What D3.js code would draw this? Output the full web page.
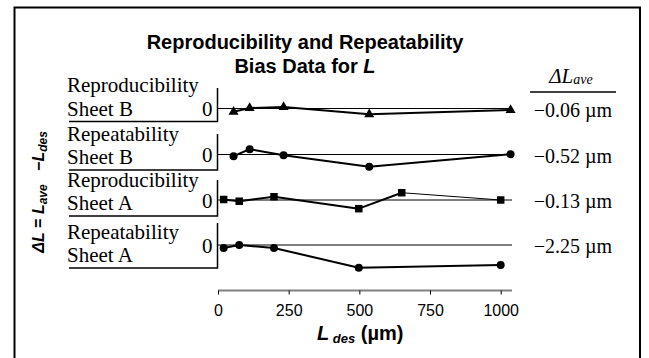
<!DOCTYPE html>
<html>
<head>
<meta charset="utf-8">
<script src="https://cdn.jsdelivr.net/npm/d3@7"></script>
<style>
  body { margin: 0; background: #fff; }
  .serif { font-family: "Liberation Serif", "Times New Roman", serif; }
  .sans { font-family: "Liberation Sans", Arial, sans-serif; }
</style>
</head>
<body>
<div id="chart"></div>
<script>
// data (bias in µm, against L des in µm)
const panelNames = ["Reproducibility", "Repeatability", "Reproducibility", "Repeatability"];
const panelSheets = ["Sheet B", "Sheet B", "Sheet A", "Sheet A"];
const markerTypes = ["triangle", "circle", "square", "circle"];
const aveBias = ["\u22120.06 \u00b5m", "\u22120.52 \u00b5m", "\u22120.13 \u00b5m", "\u22122.25 \u00b5m"];

const xSheetB = [55, 112, 232, 535, 1035];
const xReproA = [20, 75, 198, 498, 650, 1000];
const xRepeatA = [20, 75, 198, 498, 1000];

const reproB = [-0.73, 0.11, 0.33, -1.27, -0.33];
const repeatB = [-0.38, 1.18, -0.16, -2.73, 0.07];
const reproA = [0.11, -0.27, 0.73, -1.93, 1.62, 0];
const repeatA = [-0.67, 0, -0.67, -5.04, -4.44];

const xTicks = [0, 250, 500, 750, 1000];

const seriesX = [xSheetB, xSheetB, xReproA, xRepeatA];
const seriesY = [reproB, repeatB, reproA, repeatA];

// layout
const W = 649, H = 358;
const zeroY = [108.5, 154.5, 200, 245];
const boxTop = [88, 134, 180, 223];
const boxBottom = [121.5, 170, 216, 268];

const svg = d3.select("#chart").append("svg")
  .attr("width", W).attr("height", H);

// outer frame (open at the bottom)
svg.append("path")
  .attr("d", "M14.5," + (H + 5) + "V7.5H640V" + (H + 5))
  .attr("fill", "none").attr("stroke", "#000").attr("stroke-width", 2);

// title
const title = svg.append("text").attr("class", "sans")
  .attr("text-anchor", "middle")
  .style("font-size", "20px").style("font-weight", "bold");
title.append("tspan").attr("x", 305).attr("y", 49).text("Reproducibility and Repeatability");
const t2 = title.append("tspan").attr("x", 305).attr("y", 73);
t2.text("Bias Data for ");
title.append("tspan").style("font-style", "italic").text("L");

const x = d3.scaleLinear().domain([0, 1040]).range([218, 512]);

// y label
const yl = svg.append("text").attr("class", "sans")
  .attr("transform", "translate(44,192) rotate(-90)")
  .attr("text-anchor", "middle")
  .style("font-size", "16px").style("font-weight", "bold");
yl.append("tspan").style("font-style", "italic").text("\u0394L");
yl.append("tspan").text(" = ");
yl.append("tspan").style("font-style", "italic").text("L");
yl.append("tspan").style("font-style", "italic").style("font-size", "12px").attr("dy", 3).text("ave");
yl.append("tspan").attr("dy", -3).text("\u00a0\u00a0\u00a0\u2212");
yl.append("tspan").style("font-style", "italic").text("L");
yl.append("tspan").style("font-style", "italic").style("font-size", "12px").attr("dy", 3).text("des");

// header of the right column
const hdr = svg.append("text").attr("class", "serif")
  .attr("x", 571).attr("y", 83).attr("text-anchor", "middle")
  .style("font-style", "italic");
hdr.append("tspan").style("font-size", "21px").text("\u0394L");
hdr.append("tspan").style("font-size", "14px").attr("dy", 1).text("ave");
svg.append("line")
  .attr("x1", 530).attr("x2", 616).attr("y1", 92).attr("y2", 92)
  .attr("stroke", "#000").attr("stroke-width", 1.5);

const symbols = { triangle: d3.symbolTriangle, circle: d3.symbolCircle, square: d3.symbolSquare };
const symSize = { triangle: 44, circle: 50, square: 56 };

panelNames.forEach((name, i) => {
  const y0 = zeroY[i];
  const y = d3.scaleLinear().domain([-1, 1]).range([y0 + 4.5, y0 - 4.5]);
  const g = svg.append("g");

  // label box
  g.append("path")
    .attr("d", "M69," + boxBottom[i] + "H217.5V" + boxTop[i])
    .attr("fill", "none").attr("stroke", "#000").attr("stroke-width", 1.5);
  const lab = g.append("text").attr("class", "serif").style("font-size", "21px");
  lab.append("tspan").attr("x", 67).attr("y", boxBottom[i] - 29.5).text(name);
  lab.append("tspan").attr("x", 67).attr("y", boxBottom[i] - 6).text(panelSheets[i]);

  g.append("text").attr("class", "serif")
    .attr("x", 212.5).attr("y", y0).attr("dy", "0.36em")
    .attr("text-anchor", "end").style("font-size", "21px").text("0");

  // zero line
  g.append("line")
    .attr("x1", x(0)).attr("x2", x(1040)).attr("y1", y(0)).attr("y2", y(0))
    .attr("stroke", "#000").attr("stroke-width", 1);

  const pts = seriesX[i].map((v, j) => [v, seriesY[i][j]]);

  // connecting segments
  g.selectAll(".seg").data(d3.pairs(pts)).join("line")
    .attr("x1", d => x(d[0][0])).attr("y1", d => y(d[0][1]))
    .attr("x2", d => x(d[1][0])).attr("y2", d => y(d[1][1]))
    .attr("stroke", "#000")
    .attr("stroke-width", (d, j) => (i === 2 && j === 4) ? 1 : 2);

  const sym = d3.symbol().type(symbols[markerTypes[i]]).size(symSize[markerTypes[i]]);
  g.selectAll(".pt").data(pts).join("path")
    .attr("transform", d => "translate(" + x(d[0]) + "," + y(d[1]) + ")")
    .attr("d", sym).attr("fill", "#000");

  g.append("text").attr("class", "serif")
    .attr("x", 573).attr("y", y0).attr("dy", "0.42em")
    .attr("text-anchor", "middle").style("font-size", "20px")
    .text(aveBias[i]);
});

// x axis
const axis = svg.append("g")
  .attr("transform", "translate(0,290.5)")
  .call(d3.axisBottom(x).tickValues(xTicks).tickFormat(d3.format("d"))
    .tickSize(4).tickPadding(10));
axis.select(".domain").attr("stroke", "#808080").attr("stroke-width", 2)
  .attr("d", "M" + x(0) + ",0H" + x(1040));
axis.selectAll(".tick line").attr("stroke", "#000").attr("stroke-width", 1);
axis.selectAll(".tick text")
  .attr("fill", "#000")
  .style("font-family", "'Liberation Sans', Arial, sans-serif")
  .style("font-size", "16px");

const xt = svg.append("text").attr("class", "sans")
  .attr("x", 317).attr("y", 340)
  .style("font-size", "20px").style("font-weight", "bold");
xt.append("tspan").style("font-style", "italic").text("L");
xt.append("tspan").style("font-style", "italic").style("font-size", "13px").attr("dy", 3).text(" des");
xt.append("tspan").attr("dy", -3).text(" (\u00b5m)");
</script>
</body>
</html>
